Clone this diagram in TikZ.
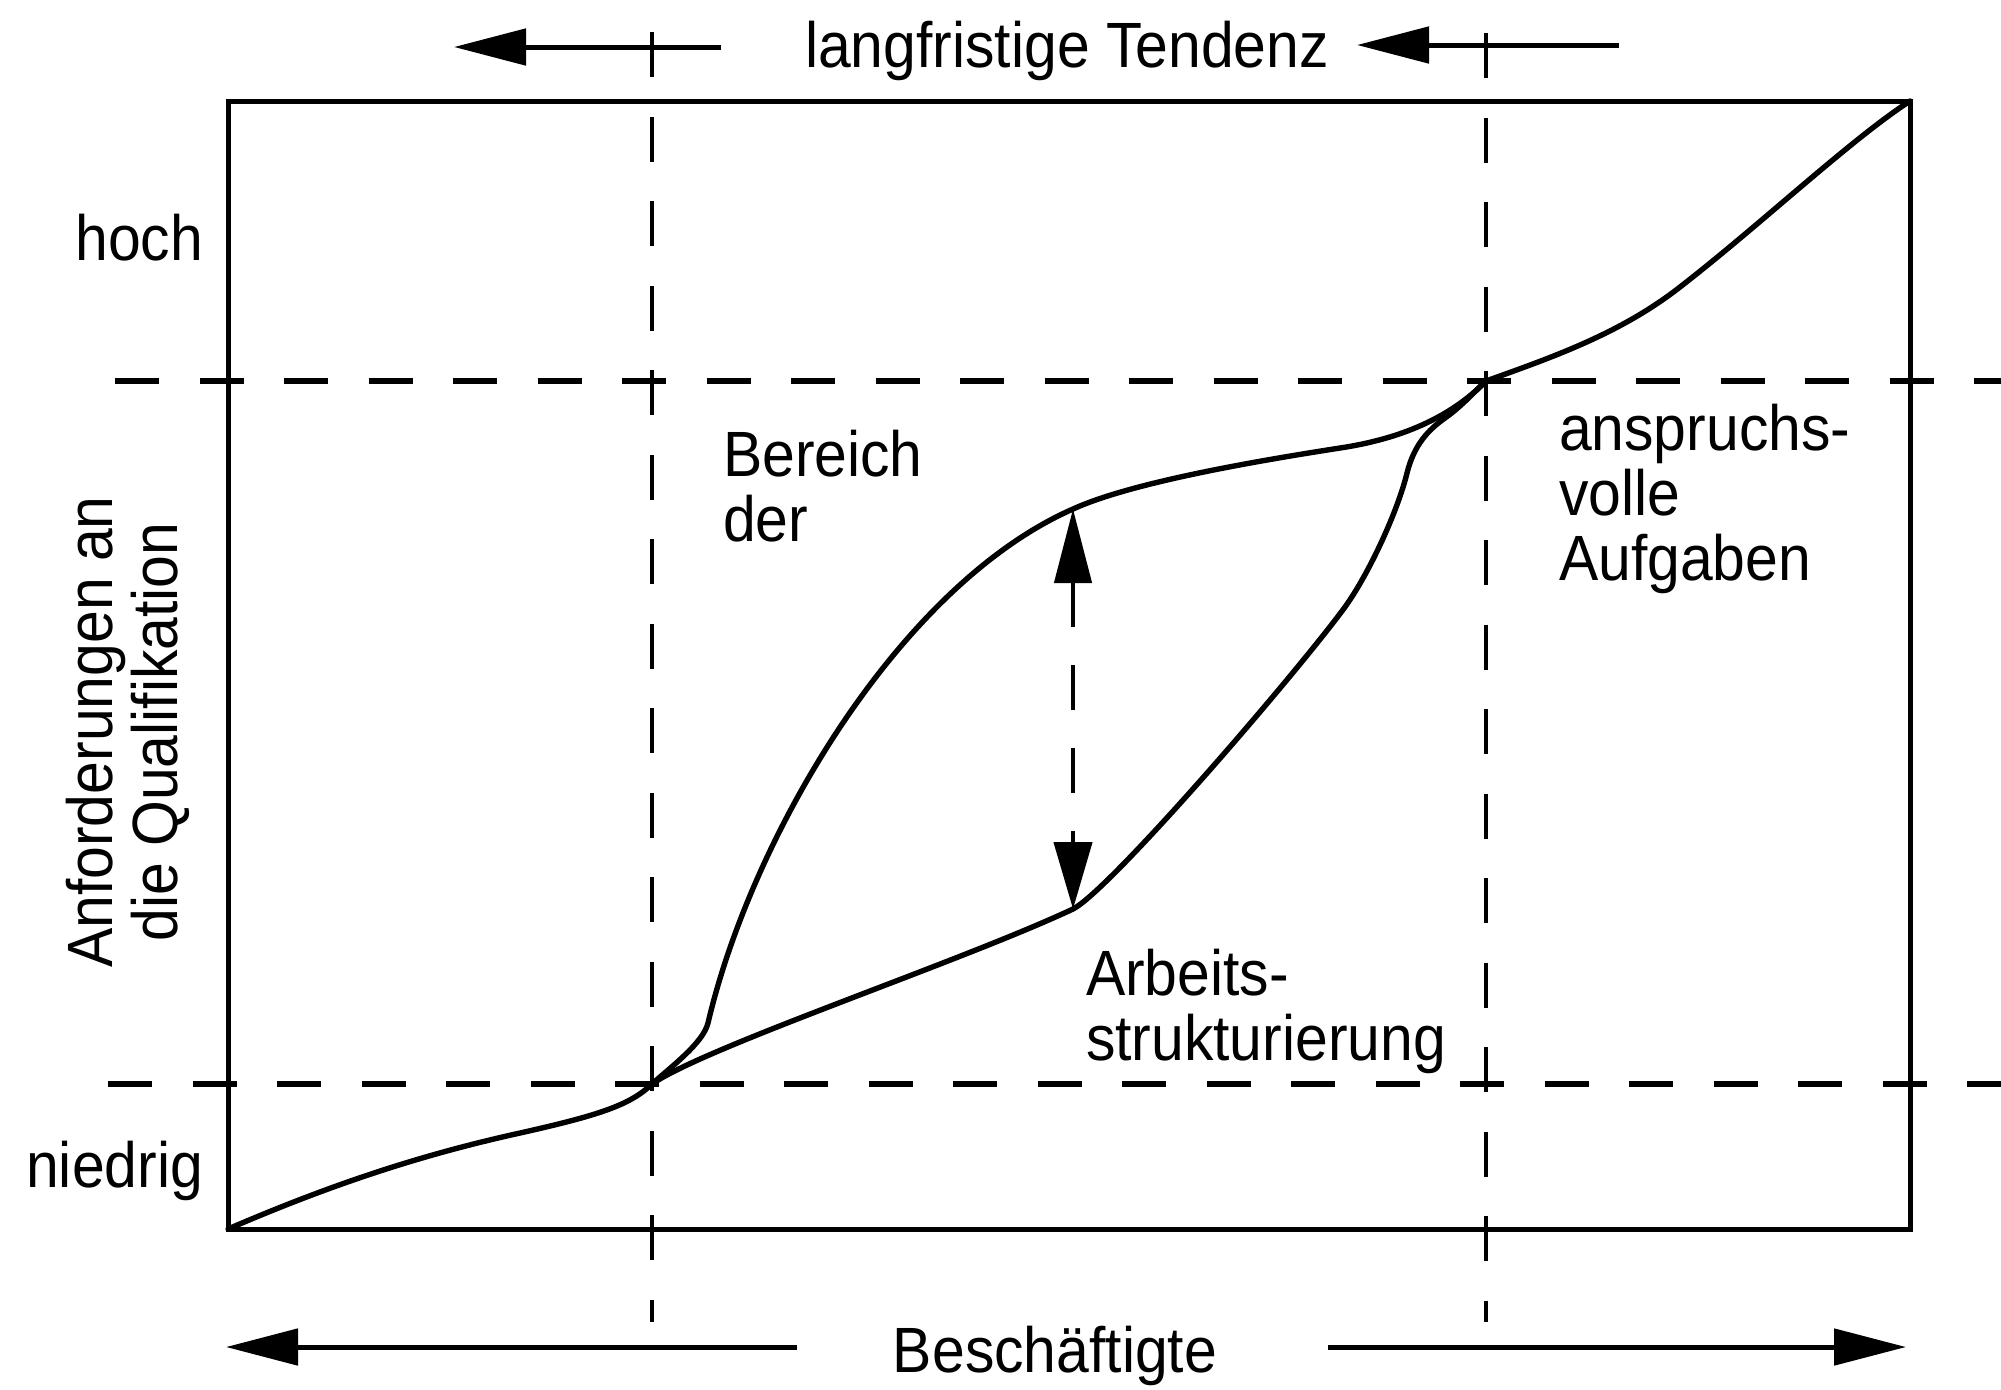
\documentclass[tikz,border=0pt]{standalone}
\usepackage{fontspec}
\setmainfont{Liberation Sans}[FakeStretch=0.92]
\usetikzlibrary{arrows.meta}
\begin{document}
\begin{tikzpicture}[x=0.5pt,y=-0.5pt,
  lbl/.style={font=\fontsize{32}{32.5}\selectfont, inner sep=0pt, outer sep=0pt},
  frame/.style={line width=2.5pt, line join=miter},
  curve/.style={line width=2.7pt, line join=round, line cap=round},
  hdash/.style={line width=3pt, dash pattern=on 22pt off 20.25pt},
  vdash/.style={line width=2pt, dash pattern=on 22.5pt off 19.75pt},
  bigarrow/.style={line width=2.5pt, -{Triangle[length=36pt,width=18pt]}},
  dblarrow/.style={line width=2.2pt, dash pattern=on 22.5pt off 19pt,
     {Triangle[length=37pt,width=18.5pt]}-{Triangle[length=33.5pt,width=19pt]}},
]
\useasboundingbox (0,0) rectangle (2001,1389);

% frame
\coordinate (BL) at (228,1229);
\coordinate (TR) at (1910,101);
\draw[frame] (BL) rectangle (TR);

% dashed guide lines
\coordinate (v1t) at (652,32);   \coordinate (v1b) at (652,1322);
\coordinate (v2t) at (1486,33);  \coordinate (v2b) at (1486,1322);
\coordinate (h1l) at (115,381);  \coordinate (h1r) at (2001,381);
\coordinate (h2l) at (108,1084); \coordinate (h2r) at (2001,1084);
\draw[vdash] (v1t) -- (v1b);
\draw[vdash] (v2t) -- (v2b);
\draw[hdash] (h1l) -- (h1r);
\draw[hdash] (h2l) -- (h2r);

% crossing points of the curves
\coordinate (X1) at (652,1084);
\coordinate (X2) at (1486,381);

% main curve: bottom-left corner -> X1 -> upper branch -> X2 -> top-right corner
\draw[curve] (BL)
  .. controls (330,1185) and (420,1155) .. (520,1133)
  .. controls (600,1115) and (630,1105) .. (X1)
  .. controls (672,1066) and (703,1043) .. (708,1023)
  .. controls (752,835) and (900,585) .. (1073,509)
  .. controls (1130,483) and (1250,462) .. (1340,448)
  .. controls (1400,439) and (1450,418) .. (X2)
  .. controls (1550,358) and (1620,334) .. (1680,287)
  .. controls (1760,225) and (1850,140) .. (TR);

% lower branch between X1 and X2
\draw[curve] (X1)
  .. controls (705,1047) and (960,962) .. (1073,909)
  .. controls (1110,890) and (1295,675) .. (1345,607)
  .. controls (1370,572) and (1398,510) .. (1407,473)
  .. controls (1414,445) and (1428,430) .. (1445,418)
  .. controls (1462,406) and (1475,391) .. (X2);

% double arrow between the curves
\coordinate (dtop) at (1073,509);
\coordinate (dbot) at (1073,909);
\draw[dblarrow] (dtop) -- (dbot);

% top arrows
\coordinate (ta1s) at (721,47);  \coordinate (ta1e) at (454,47);
\coordinate (ta2s) at (1619,45); \coordinate (ta2e) at (1357,45);
\draw[bigarrow] (ta1s) -- (ta1e);
\draw[bigarrow] (ta2s) -- (ta2e);

% bottom arrows
\coordinate (ba1s) at (797,1347);  \coordinate (ba1e) at (226,1347);
\coordinate (ba2s) at (1328,1347); \coordinate (ba2e) at (1906,1347);
\draw[bigarrow] (ba1s) -- (ba1e);
\draw[bigarrow] (ba2s) -- (ba2e);

% labels
\node[lbl, anchor=base] (tend) at (1067,67) {langfristige Tendenz};
\node[lbl, anchor=base] (besch) at (1055,1372) {Beschäftigte};
\node[lbl, anchor=base east] (hoch) at (203,260) {hoch};
\node[lbl, anchor=base east] (niedrig) at (203,1187) {niedrig};
\node[lbl, rotate=90, align=center] (ylab) at (128,732) {Anforderungen an\\die Qualifikation};
% base anchor of a multi-line node = baseline of its last line
\node[lbl, anchor=base west, align=left] (bereich) at (723,541) {Bereich\\der};
\node[lbl, anchor=base west, align=left] (anspr) at (1559,580) {anspruchs-\\volle\\Aufgaben};
\node[lbl, anchor=base west, align=left] (arbeit) at (1086,1060) {Arbeits-\\strukturierung};
\end{tikzpicture}
\end{document}
